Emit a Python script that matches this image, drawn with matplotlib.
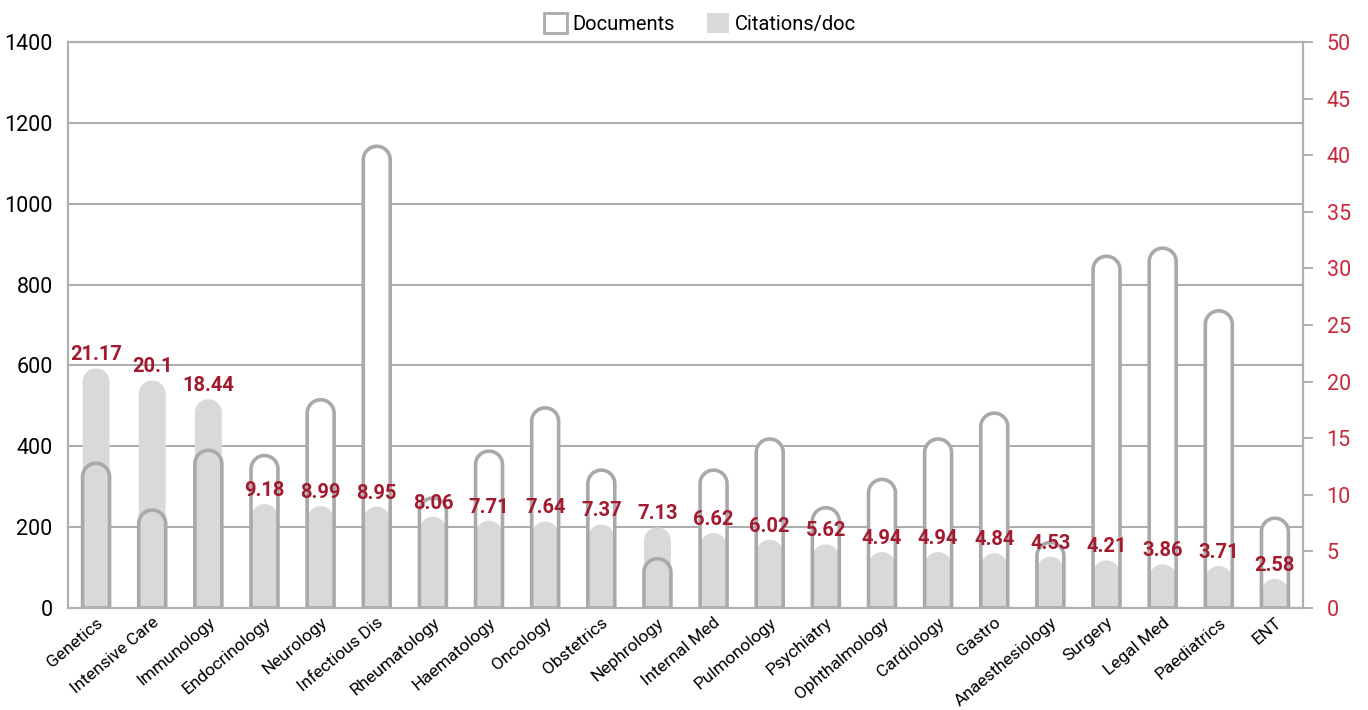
import numpy as np
import matplotlib.pyplot as plt
from matplotlib.patches import PathPatch, Patch
from matplotlib.path import Path

plt.rcParams["font.family"] = ["Roboto", "DejaVu Sans"]

categories = ["Genetics", "Intensive Care", "Immunology", "Endocrinology", "Neurology",
              "Infectious Dis", "Rheumatology", "Haematology", "Oncology", "Obstetrics",
              "Nephrology", "Internal Med", "Pulmonology", "Psychiatry", "Ophthalmology",
              "Cardiology", "Gastro", "Anaesthesiology", "Surgery", "Legal Med",
              "Paediatrics", "ENT"]
documents = [358, 242, 390, 377, 515, 1142, 272, 388, 495, 341,
             122, 341, 418, 248, 318, 418, 482, 162, 870, 890, 735, 222]
citations = [21.17, 20.1, 18.44, 9.18, 8.99, 8.95, 8.06, 7.71, 7.64, 7.37,
             7.13, 6.62, 6.02, 5.62, 4.94, 4.94, 4.84, 4.53, 4.21, 3.86, 3.71, 2.58]

GRAY = "#a9a9ac"
FILL = "#d9d9db"
RED_LBL = "#a3192e"
RED_TICK = "#c8283c"

fig = plt.figure(figsize=(13.68, 7.10), dpi=100)
ax = fig.add_axes([68 / 1368, 102 / 710, 1235 / 1368, 566 / 710])
ax2 = ax.twinx()

n = len(categories)
x = np.arange(n)
ax.set_xlim(-0.5, n - 0.5)
ax.set_ylim(0, 1400)
ax2.set_ylim(0, 50)
ax.set_autoscale_on(False)
ax2.set_autoscale_on(False)

# half bar width in x data units, and the matching radius in each y scale
rx = 0.24
bb = ax.get_window_extent()
px_x = bb.width / n
ry_doc = rx * px_x / (bb.height / 1400)
ry_cit = rx * px_x / (bb.height / 50)


def capsule(xc, top, ry):
    t = np.linspace(0, np.pi, 40)
    verts = [(xc + rx, 0), (xc + rx, max(top - ry, 0))]
    verts += list(zip(xc + rx * np.cos(t), max(top - ry, 0) + ry * np.sin(t)))
    verts += [(xc - rx, 0), (xc + rx, 0)]
    codes = [Path.MOVETO] + [Path.LINETO] * (len(verts) - 2) + [Path.CLOSEPOLY]
    return Path(verts, codes)


for xi, d, c in zip(x, documents, citations):
    ax.add_patch(PathPatch(capsule(xi, d, ry_doc), facecolor="white", edgecolor="none",
                           zorder=2))
    ax.add_patch(PathPatch(capsule(xi, c, ry_cit), facecolor=FILL, edgecolor="none",
                           transform=ax2.transData, zorder=3))
    ax.add_patch(PathPatch(capsule(xi, d, ry_doc), facecolor="none", edgecolor=GRAY,
                           lw=2.6, zorder=4))
    ax2.annotate(f"{c:g}", (xi, c), xytext=(0, 3), textcoords="offset points",
                 ha="center", va="bottom", color=RED_LBL, fontsize=14.5,
                 fontweight="bold")

ax.set_yticks(range(0, 1401, 200))
ax.yaxis.grid(True, color="#a5a5a5", lw=1.3)
ax.set_axisbelow(True)
ax.tick_params(axis="y", length=0, labelsize=15.5, pad=11)
ax.set_xticks(x)
ax.set_xticklabels(categories, rotation=40, ha="right", rotation_mode="anchor",
                   fontsize=12.5)
ax.tick_params(axis="x", length=0, pad=5)

ax2.set_yticks(range(0, 51, 5))
ax2.tick_params(axis="y", colors=GRAY, length=7, width=1.3, labelsize=15.5,
                labelcolor=RED_TICK, pad=10)

for a in (ax, ax2):
    for s in a.spines.values():
        s.set_color("#b0b0b0")
        s.set_linewidth(1.5)

handles = [Patch(facecolor="white", edgecolor=GRAY, lw=2),
           Patch(facecolor=FILL, edgecolor="none")]
fig.legend(handles, ["Documents", "Citations/doc"], loc="center",
           bbox_to_anchor=(0.512, 0.967), ncol=2, frameon=False, fontsize=14.5,
           handlelength=1.1, handleheight=1.1, handletextpad=0.3, columnspacing=1.6)

fig.savefig("out.png", dpi=100)
